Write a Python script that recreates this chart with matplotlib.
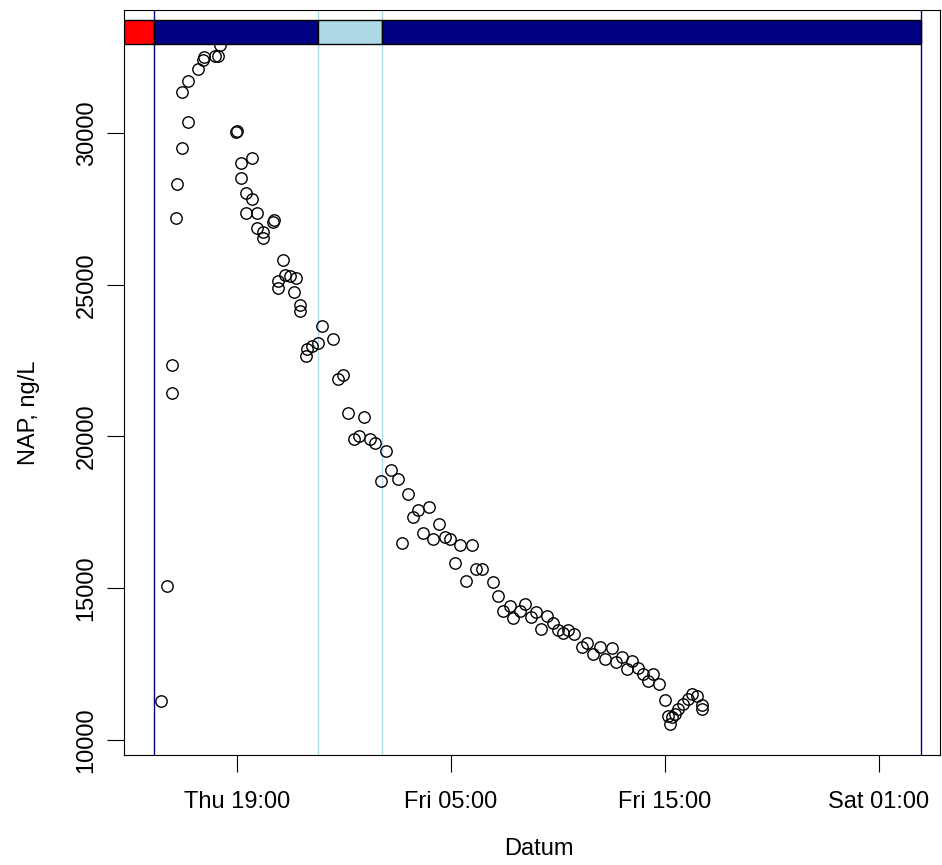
import matplotlib
matplotlib.use("Agg")
import matplotlib.pyplot as plt
import matplotlib.dates as mdates
import numpy as np
import pandas as pd

# Messzeitpunkte (Stunden ab Do 00:00) und NAP-Konzentrationen
stunden = [15.43, 15.71, 15.95, 15.95, 16.15, 16.20, 16.44, 16.70, 16.44, 16.70,
           17.19, 17.43, 17.47, 17.97, 18.13, 18.21, 18.95, 18.98, 19.17, 19.69,
           19.19, 19.42, 19.69, 19.42, 19.92, 20.67, 20.71, 19.92, 20.20, 20.20,
           21.16, 21.24, 21.48, 21.76, 20.93, 20.93, 21.66, 21.94, 21.94, 22.96,
           23.47, 22.80, 22.49, 22.26, 22.22, 23.94, 23.71, 24.20, 24.95, 24.71,
           24.48, 25.21, 25.45, 25.96, 26.20, 26.51, 25.73, 26.98, 27.99, 27.47,
           27.21, 28.45, 27.68, 28.17, 28.72, 28.95, 29.42, 29.97, 26.70, 29.19,
           30.17, 30.43, 29.70, 30.95, 31.21, 31.76, 31.42, 32.46, 32.22, 31.91,
           32.97, 32.74, 33.47, 33.21, 33.78, 34.01, 34.48, 34.76, 34.25, 35.34,
           35.11, 35.96, 36.51, 35.65, 36.20, 36.71, 36.98, 37.44, 37.21, 37.75,
           37.99, 38.45, 38.22, 38.73, 39.00, 39.23, 39.14, 39.31, 39.47, 39.62,
           39.86, 40.09, 40.25, 40.48, 40.72, 40.72]
nap = [11280, 15073, 21446, 22367, 27204, 28322, 29507, 30362, 31349, 31721,
       32106, 32402, 32500, 32533, 32533, 32895, 30043, 30082, 29023, 29168,
       28520, 28036, 27819, 27378, 27378, 27082, 27138, 26865, 26753, 26555,
       25799, 25328, 25295, 25220, 25108, 24890, 24746, 24341, 24121, 23627,
       23213, 23081, 22992, 22884, 22640, 22038, 21897, 20778, 20646, 20008,
       19933, 19933, 19791, 19522, 18880, 18584, 18528, 18090, 17685, 17564,
       17343, 17103, 16830, 16633, 16698, 16633, 16412, 16412, 16501, 15843,
       15646, 15623, 15238, 15218, 14734, 14415, 14251, 14494, 14251, 14033,
       14218, 14067, 14086, 13672, 13869, 13616, 13616, 13484, 13517, 13211,
       13079, 13079, 13046, 12826, 12662, 12553, 12718, 12606, 12333, 12356,
       12168, 12168, 11948, 11839, 11313, 10523, 10796, 10743, 10852, 11017,
       11181, 11346, 11510, 11455, 11017, 11148]

# Phasen (Balken oben) und Markierungen
phasen_grenzen = [13.72, 15.12, 22.79, 25.78, 50.96]
phasen_farben = ["red", "navy", "lightblue", "navy"]
linien_dunkel = [15.12, 50.96]
linien_hell = [22.79, 25.78]
tick_stunden = [19, 29, 39, 49]
y_ticks = [10000, 15000, 20000, 25000, 30000]

basis = pd.Timestamp("2021-01-07")  # ein Donnerstag


def zu_datum(h):
    return mdates.date2num((basis + pd.to_timedelta(np.asarray(h), unit="h")).to_pydatetime())


plt.rcParams["font.family"] = ["Liberation Sans", "DejaVu Sans"]
plt.rcParams["font.size"] = 17

fig = plt.figure(figsize=(9.42, 8.65), dpi=100)
ax = fig.add_axes([124 / 942, 1 - 755 / 865, 816 / 942, 745 / 865])

x = zu_datum(stunden)
ax.plot(x, nap, "o", mfc="none", mec="black", ms=8.2, mew=1.0, zorder=3)

for h in linien_dunkel:
    ax.axvline(zu_datum([h])[0], color="navy", lw=1.0, zorder=1)
for h in linien_hell:
    ax.axvline(zu_datum([h])[0], color="lightblue", lw=1.0, zorder=1)

# Balken oben
g = zu_datum(phasen_grenzen)
for i, farbe in enumerate(phasen_farben):
    ax.bar(g[i], 33718 - 32928, width=g[i + 1] - g[i], bottom=32928, align="edge",
           color=farbe, edgecolor="black", lw=1.0, zorder=4)

ax.set_xlim(zu_datum([13.72])[0], zu_datum([51.85])[0])
ax.set_ylim(9505, 34053)

ax.set_xticks(zu_datum(tick_stunden))
ax.xaxis.set_major_formatter(mdates.DateFormatter("%a %H:%M"))
ax.set_yticks(y_ticks)
ax.set_yticklabels([str(v) for v in y_ticks], rotation=90, va="center")

ax.tick_params(axis="both", length=12, width=0.8)
ax.tick_params(axis="x", pad=14)
ax.tick_params(axis="y", pad=7)
for s in ax.spines.values():
    s.set_linewidth(0.8)

ax.set_xlabel("Datum")
ax.set_ylabel("NAP, ng/L")
ax.xaxis.set_label_coords(0.5086, -0.112)
ax.yaxis.set_label_coords(-0.103, 0.46)

fig.savefig("out.png", dpi=100)
